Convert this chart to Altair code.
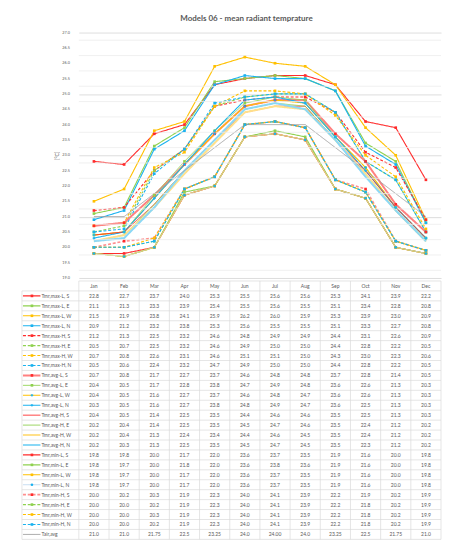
import altair as alt
import pandas as pd

months = ["Jan", "Feb", "Mar", "Apr", "May", "Jun", "Jul", "Aug", "Sep", "Oct", "Nov", "Dec"]

names = [
    "Tmr,max-L, S", "Tmr,max-L, E", "Tmr,max-L, W", "Tmr,max-L, N",
    "Tmr,max-H, S", "Tmr,max-H, E", "Tmr,max-H, W", "Tmr,max-H, N",
    "Tmr,avg-L, S", "Tmr,avg-L, E", "Tmr,avg-L, W", "Tmr,avg-L, N",
    "Tmr,avg-H, S", "Tmr,avg-H, E", "Tmr,avg-H, W", "Tmr,avg-H, N",
    "Tmr,min-L, S", "Tmr,min-L, E", "Tmr,min-L, W", "Tmr,min-L, N",
    "Tmr,min-H, S", "Tmr,min-H, E", "Tmr,min-H, W", "Tmr,min-H, N",
    "Tair,avg",
]

max_L_S = [22.8, 22.7, 23.7, 24.0, 25.3, 25.5, 25.6, 25.6, 25.3, 24.1, 23.9, 22.2]
max_L_E = [21.1, 21.3, 23.3, 23.9, 25.4, 25.5, 25.6, 25.5, 25.1, 23.4, 22.8, 20.8]
max_L_W = [21.5, 21.9, 23.8, 24.1, 25.9, 26.2, 26.0, 25.9, 25.3, 23.9, 23.0, 20.9]
max_L_N = [20.9, 21.2, 23.2, 23.8, 25.3, 25.6, 25.5, 25.5, 25.1, 23.3, 22.7, 20.8]
max_H_S = [21.2, 21.3, 22.5, 23.2, 24.6, 24.8, 24.9, 24.9, 24.4, 23.1, 22.6, 20.9]
max_H_E = [20.5, 20.7, 22.5, 23.2, 24.6, 24.9, 25.0, 25.0, 24.4, 22.8, 22.2, 20.5]
max_H_W = [20.7, 20.8, 22.6, 23.1, 24.6, 25.1, 25.1, 25.0, 24.3, 23.0, 22.3, 20.6]
max_H_N = [20.5, 20.6, 22.4, 23.2, 24.7, 24.9, 25.0, 25.0, 24.4, 22.8, 22.2, 20.5]
avg_L_S = [20.7, 20.8, 21.7, 22.7, 23.7, 24.6, 24.8, 24.8, 23.7, 22.8, 21.4, 20.5]
avg_L_E = [20.4, 20.5, 21.7, 22.8, 23.8, 24.7, 24.9, 24.8, 23.6, 22.6, 21.3, 20.3]
avg_L_W = [20.4, 20.5, 21.6, 22.7, 23.7, 24.6, 24.8, 24.7, 23.6, 22.6, 21.3, 20.3]
avg_L_N = [20.3, 20.5, 21.6, 22.7, 23.8, 24.8, 24.9, 24.7, 23.6, 22.5, 21.3, 20.3]
avg_H_S = [20.4, 20.5, 21.4, 22.5, 23.5, 24.4, 24.6, 24.6, 23.5, 22.5, 21.3, 20.3]
avg_H_E = [20.2, 20.4, 21.4, 22.5, 23.5, 24.5, 24.7, 24.6, 23.5, 22.4, 21.2, 20.2]
avg_H_W = [20.2, 20.4, 21.3, 22.4, 23.4, 24.4, 24.6, 24.5, 23.5, 22.4, 21.2, 20.2]
avg_H_N = [20.2, 20.3, 21.3, 22.5, 23.5, 24.5, 24.7, 24.5, 23.5, 22.3, 21.2, 20.2]
min_L_S = [19.8, 19.8, 20.0, 21.7, 22.0, 23.6, 23.7, 23.5, 21.9, 21.6, 20.0, 19.8]
min_L_E = [19.8, 19.7, 20.0, 21.8, 22.0, 23.6, 23.8, 23.6, 21.9, 21.6, 20.0, 19.8]
min_L_W = [19.8, 19.7, 20.0, 21.7, 22.0, 23.6, 23.7, 23.5, 21.9, 21.6, 20.0, 19.8]
min_L_N = [19.8, 19.7, 20.0, 21.7, 22.0, 23.6, 23.7, 23.5, 21.9, 21.6, 20.0, 19.8]
min_H_S = [20.0, 20.2, 20.3, 21.9, 22.3, 24.0, 24.1, 23.9, 22.2, 21.9, 20.2, 19.9]
min_H_E = [20.0, 20.0, 20.2, 21.9, 22.3, 24.0, 24.1, 23.9, 22.2, 21.8, 20.2, 19.9]
min_H_W = [20.0, 20.0, 20.3, 21.9, 22.3, 24.0, 24.1, 23.9, 22.2, 21.8, 20.2, 19.9]
min_H_N = [20.0, 20.0, 20.2, 21.9, 22.3, 24.0, 24.1, 23.9, 22.2, 21.8, 20.2, 19.9]
tair_avg = [21.0, 21.0, 21.75, 22.5, 23.25, 24.0, 24.00, 24.0, 23.25, 22.5, 21.75, 21.0]
tair_labels = ["21.0", "21.0", "21.75", "22.5", "23.25", "24.0", "24.00", "24.0", "23.25", "22.5", "21.75", "21.0"]

series_values = [
    max_L_S, max_L_E, max_L_W, max_L_N,
    max_H_S, max_H_E, max_H_W, max_H_N,
    avg_L_S, avg_L_E, avg_L_W, avg_L_N,
    avg_H_S, avg_H_E, avg_H_W, avg_H_N,
    min_L_S, min_L_E, min_L_W, min_L_N,
    min_H_S, min_H_E, min_H_W, min_H_N,
    tair_avg,
]

# y-axis: labelled major ticks every 0.5, light minor grid every 0.25
major_ticks = [19.0, 19.5, 20.0, 20.5, 21.0, 21.5, 22.0, 22.5, 23.0, 23.5, 24.0, 24.5, 25.0, 25.5, 26.0, 26.5, 27.0]
minor_ticks = [19.25, 19.75, 20.25, 20.75, 21.25, 21.75, 22.25, 22.75, 23.25, 23.75, 24.25, 24.75, 25.25, 25.75, 26.25, 26.75]

RED, GREEN, YEL, CYAN = "#ff2b2b", "#8fd14f", "#ffc000", "#1ab2ef"
line_colors = [
    RED, GREEN, YEL, CYAN,
    RED, GREEN, YEL, CYAN,
    "#ff8080", GREEN, YEL, CYAN,
    RED, GREEN, "#ffe08a", "#8ad8f6",
    RED, GREEN, YEL, "#b9d6ee",
    "#ff8f8f", GREEN, YEL, CYAN,
    "#a0a0a0",
]
line_dash = (["solid"] * 4 + ["dash"] * 4 + ["solid"] * 12 + ["dash"] * 4 + ["solid"])
line_widths = [
    1.1, 1.1, 1.1, 1.1,
    1.1, 1.1, 1.1, 1.1,
    2.0, 0.9, 1.1, 1.1,
    0.9, 0.9, 2.0, 2.0,
    1.1, 1.1, 1.1, 0.8,
    1.6, 1.1, 1.1, 1.1,
    0.9,
]
marker_colors = [
    RED, GREEN, YEL, CYAN,
    RED, GREEN, YEL, CYAN,
    RED, GREEN, CYAN, CYAN,
    None, None, None, None,
    RED, GREEN, YEL, CYAN,
    RED, GREEN, YEL, CYAN,
    None,
]
marker_shapes = [
    "square", "square", "square", "square",
    "square", "square", "square", "square",
    "square", "square", "cross", "cross",
    None, None, None, None,
    "square", "square", "square", "circle",
    "square", "square", "square", "square",
    None,
]

# ---------- long tables ----------
line_rows, cell_rows, legend_rows = [], [], []
for i, (nm, vals) in enumerate(zip(names, series_values)):
    legend_rows.append(dict(series=nm, y=i + 1.5, lcolor=line_colors[i], dash=line_dash[i],
                            lw=line_widths[i], mcolor=marker_colors[i] or "", mshape=marker_shapes[i] or ""))
    for j, (m, v) in enumerate(zip(months, vals)):
        line_rows.append(dict(series=nm, month=m, value=v, lcolor=line_colors[i], dash=line_dash[i],
                              lw=line_widths[i], mcolor=marker_colors[i] or "", mshape=marker_shapes[i] or ""))
        txt = tair_labels[j] if nm == "Tair,avg" else f"{v:.1f}"
        cell_rows.append(dict(x=j + 0.5, y=i + 1.5, text=txt))

lines_df = pd.DataFrame(line_rows)
cells_df = pd.DataFrame(cell_rows)
legend_df = pd.DataFrame(legend_rows)
minor_df = pd.DataFrame(dict(value=minor_ticks))
major_df = pd.DataFrame(dict(value=major_ticks, label=[f"{v:.1f}" for v in major_ticks]))
header_df = pd.DataFrame(dict(x=[j + 0.5 for j in range(12)], y=[0.5] * 12, text=months))
n_rows = len(names) + 1
hlines_df = pd.DataFrame(dict(y=list(range(1, n_rows + 1))))
htop_df = pd.DataFrame(dict(y=[0]))
vlines_df = pd.DataFrame(dict(x=list(range(13)), y0=[0] * 13, y1=[n_rows] * 13))
vleft_df = pd.DataFrame(dict(y0=[1], y1=[n_rows]))

W, H = 363, 246
TH = 259
LAB_LEFT = -57
TXT = "#595959"
GRID = "#d9d9d9"
FONT = "Lato"

dash_scale = alt.Scale(domain=["solid", "dash"], range=[[1, 0], [3, 1.8]])

# ---------- line chart ----------
xenc = alt.X("month:O", sort=months, axis=None, scale=alt.Scale(type="point", padding=0.5))
yscale = alt.Scale(domain=[19, 27], nice=False, zero=False)
yenc = alt.Y(
    "value:Q",
    scale=yscale,
    axis=alt.Axis(
        values=major_ticks,
        labels=False,
        title="[°C]",
        ticks=False,
        domain=False,
        gridColor="#d4d4d4",
        gridWidth=0.8,
        titleFontSize=5,
        titleFontWeight="normal",
        titleColor=TXT,
        titleFont=FONT,
        titlePadding=19,
    ),
)

minor = alt.Chart(minor_df).mark_rule(color="#ececec", strokeWidth=0.8).encode(
    y=alt.Y("value:Q", scale=yscale), x=alt.value(0), x2=alt.value(W))
ylabels = alt.Chart(major_df).mark_text(align="right", baseline="middle", fontSize=3.8, color=TXT, font=FONT).encode(
    y=alt.Y("value:Q", scale=yscale), x=alt.value(-9), text="label:N")
lines = alt.Chart(lines_df).mark_line().encode(
    x=xenc,
    y=yenc,
    detail="series:N",
    color=alt.Color("lcolor:N", scale=None),
    strokeDash=alt.StrokeDash("dash:N", scale=dash_scale, legend=None),
    strokeWidth=alt.StrokeWidth("lw:Q", scale=None),
)
points = alt.Chart(lines_df).transform_filter("datum.mshape != ''").mark_point(
    filled=True, size=7, opacity=1
).encode(
    x=xenc,
    y=alt.Y("value:Q"),
    color=alt.Color("mcolor:N", scale=None),
    shape=alt.Shape("mshape:N", scale=None),
)
plot = alt.layer(lines, minor, ylabels, points).properties(width=W, height=H)

# ---------- data table ----------
tx = alt.X("x:Q", scale=alt.Scale(domain=[0, 12], nice=False, zero=False), axis=None)
ty = alt.Y("y:Q", scale=alt.Scale(domain=[0, n_rows], nice=False, zero=False, reverse=True), axis=None)

hlines = alt.Chart(hlines_df).mark_rule(color=GRID, strokeWidth=0.7).encode(
    x=alt.value(LAB_LEFT), x2=alt.value(W), y=ty)
htop = alt.Chart(htop_df).mark_rule(color=GRID, strokeWidth=0.7).encode(
    x=alt.value(0), x2=alt.value(W), y="y:Q")
vlines = alt.Chart(vlines_df).mark_rule(color=GRID, strokeWidth=0.7).encode(
    x=tx, y=alt.Y("y0:Q"), y2="y1:Q")
vleft = alt.Chart(vleft_df).mark_rule(color=GRID, strokeWidth=0.7).encode(
    x=alt.value(LAB_LEFT), y=alt.Y("y0:Q"), y2="y1:Q")
cells = alt.Chart(cells_df).mark_text(fontSize=5, color=TXT, font=FONT).encode(x=tx, y="y:Q", text="text:N")
header = alt.Chart(header_df).mark_text(fontSize=5, color=TXT, font=FONT).encode(x="x:Q", y="y:Q", text="text:N")
leg_lines = alt.Chart(legend_df).mark_rule().encode(
    x=alt.value(-56), x2=alt.value(-38.5), y="y:Q",
    color=alt.Color("lcolor:N", scale=None),
    strokeDash=alt.StrokeDash("dash:N", scale=dash_scale, legend=None),
    strokeWidth=alt.StrokeWidth("lw:Q", scale=None),
)
leg_points = alt.Chart(legend_df).transform_filter("datum.mshape != ''").mark_point(
    filled=True, size=7, opacity=1
).encode(
    x=alt.value(-47), y="y:Q",
    color=alt.Color("mcolor:N", scale=None),
    shape=alt.Shape("mshape:N", scale=None),
)
leg_text = alt.Chart(legend_df).mark_text(align="left", fontSize=5, color=TXT, font=FONT).encode(
    x=alt.value(-37.5), y="y:Q", text="series:N")

table = alt.layer(hlines, htop, vlines, vleft, cells, header, leg_lines, leg_points, leg_text).properties(
    width=W, height=TH)

chart = alt.vconcat(plot, table, spacing=0).resolve_scale(
    x="independent", y="independent", color="independent", strokeDash="independent",
    strokeWidth="independent", shape="independent",
).properties(
    title=alt.Title("Models 06 - mean radiant temprature", fontSize=8, font=FONT, fontWeight="bold",
                    color=TXT, anchor="middle", offset=8, dx=15),
    padding={"left": 13, "top": 6, "right": 0, "bottom": 0},
).configure_view(stroke=None)

chart.save("out.html", embed_options={"renderer": "svg", "actions": False})
